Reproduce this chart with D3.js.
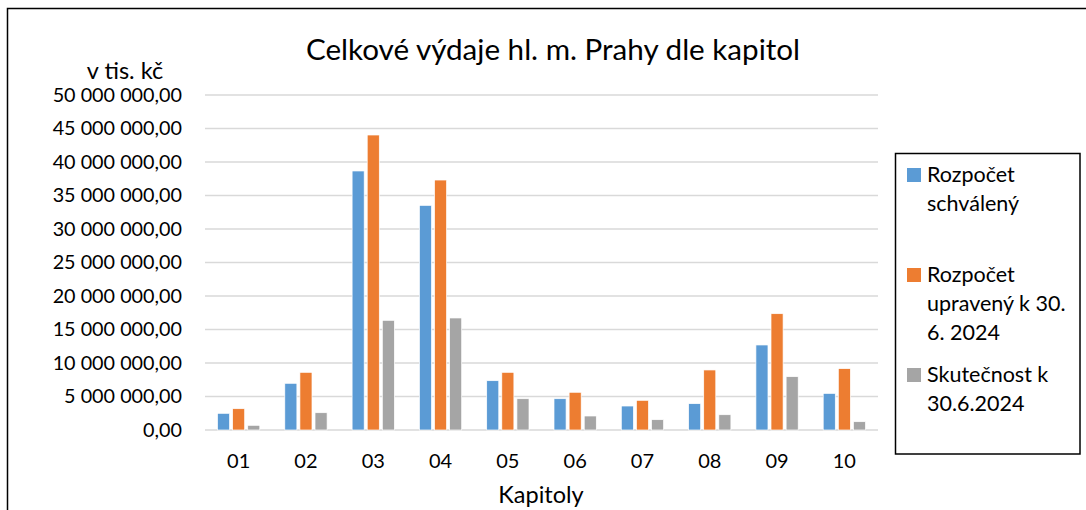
<!DOCTYPE html>
<html>
<head>
<meta charset="utf-8">
<script src="https://cdn.jsdelivr.net/npm/d3@7"></script>
<style>
  body { margin: 0; background: #fff; }
  svg { display: block; font-family: Lato, 'Open Sans', sans-serif; }
</style>
</head>
<body>
<svg id="chart" width="1086" height="510"></svg>
<script>
const categories = ['01', '02', '03', '04', '05', '06', '07', '08', '09', '10'];
const seriesNames = [
  ['Rozpočet', 'schválený'],
  ['Rozpočet', 'upravený k 30.', '6. 2024'],
  ['Skutečnost k', '30.6.2024']
];
const schvaleny = [2490000, 6970000, 38660000, 33530000, 7360000, 4670000, 3580000, 3930000, 12690000, 5470000];
const upraveny = [3180000, 8610000, 44030000, 37310000, 8610000, 5630000, 4430000, 8960000, 17360000, 9160000];
const skutecnost = [700000, 2580000, 16370000, 16720000, 4670000, 2090000, 1540000, 2280000, 7960000, 1240000];
const yTicks = [0, 5e6, 10e6, 15e6, 20e6, 25e6, 30e6, 35e6, 40e6, 45e6, 50e6];
const colors = ['#5b9bd5', '#ed7d31', '#a5a5a5'];

const series = [schvaleny, upraveny, skutecnost];
const svg = d3.select('#chart');

// outer frame (right/bottom edge fall outside the picture)
svg.append('rect')
  .attr('x', 7.5).attr('y', 8.5)
  .attr('width', 1100).attr('height', 520)
  .attr('fill', 'none').attr('stroke', '#000').attr('stroke-width', 1.5);

const plot = { left: 205, right: 878, top: 95, bottom: 430 };

const x = d3.scaleBand().domain(categories).range([plot.left, plot.right]).paddingInner(0).paddingOuter(0);
const y = d3.scaleLinear().domain([0, 50e6]).range([plot.bottom, plot.top]);

const fmt = v => {
  const s = d3.format(',.2f')(v);
  return s.replace(/,/g, ' ').replace('.', ',');
};

// gridlines
svg.append('g')
  .selectAll('line')
  .data(yTicks)
  .join('line')
  .attr('x1', plot.left).attr('x2', plot.right)
  .attr('y1', d => y(d)).attr('y2', d => y(d))
  .attr('stroke', '#d9d9d9').attr('stroke-width', 1.3);

// y axis labels
const yAxis = svg.append('g')
  .attr('transform', `translate(${plot.left - 23},0)`)
  .call(d3.axisLeft(y).tickValues(yTicks).tickFormat(fmt).tickSize(0).tickPadding(0));
yAxis.select('.domain').remove();
yAxis.selectAll('text')
  .attr('font-family', 'Lato').attr('font-size', 19.8).attr('fill', '#000');

// x axis labels
const xAxis = svg.append('g')
  .attr('transform', `translate(0,${plot.bottom})`)
  .call(d3.axisBottom(x).tickSize(0).tickPadding(24));
xAxis.select('.domain').remove();
xAxis.selectAll('text')
  .attr('font-family', 'Lato').attr('font-size', 20).attr('fill', '#000');

// bars
const inner = d3.scaleBand().domain([0, 1, 2]).range([12.5, x.bandwidth() - 12.5]).paddingInner(0.2);
const groups = svg.append('g')
  .selectAll('g')
  .data(categories)
  .join('g')
  .attr('transform', d => `translate(${x(d)},0)`);

groups.selectAll('rect')
  .data((d, i) => series.map((s, k) => ({ k, v: s[i] })))
  .join('rect')
  .attr('x', d => inner(d.k))
  .attr('width', inner.bandwidth())
  .attr('y', d => y(d.v))
  .attr('height', d => y(0) - y(d.v))
  .attr('fill', d => colors[d.k])
  .attr('stroke', '#fff').attr('stroke-width', 0.7);

// title and axis titles
svg.append('text')
  .attr('x', 553).attr('y', 60)
  .attr('text-anchor', 'middle')
  .attr('font-size', 29.6).attr('fill', '#000')
  .text('Celkové výdaje hl. m. Prahy dle kapitol');

svg.append('text')
  .attr('x', 125).attr('y', 79)
  .attr('text-anchor', 'middle')
  .attr('font-size', 23.5).attr('fill', '#000')
  .text('v tis. kč');

svg.append('text')
  .attr('x', 541).attr('y', 503)
  .attr('text-anchor', 'middle')
  .attr('font-size', 23.5).attr('fill', '#000')
  .text('Kapitoly');

// legend
const legend = svg.append('g');
legend.append('rect')
  .attr('x', 895.5).attr('y', 153.5)
  .attr('width', 184.5).attr('height', 300.5)
  .attr('fill', '#fff').attr('stroke', '#000').attr('stroke-width', 1.5);

const legendTop = [168, 268, 368];
const lineH = 29;
seriesNames.forEach((lines, k) => {
  legend.append('rect')
    .attr('x', 907).attr('y', legendTop[k])
    .attr('width', 14).attr('height', 14)
    .attr('fill', colors[k]);
  const t = legend.append('text')
    .attr('font-size', 21.5).attr('fill', '#000');
  lines.forEach((ln, j) => {
    t.append('tspan')
      .attr('x', 927).attr('y', legendTop[k] + 14 + j * lineH)
      .text(ln);
  });
});
</script>
</body>
</html>
